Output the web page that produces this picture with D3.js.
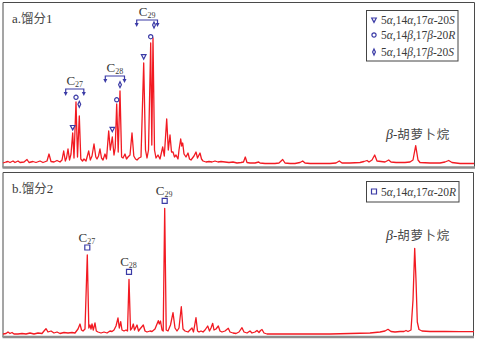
<!DOCTYPE html>
<html>
<head>
<meta charset="utf-8">
<script src="https://cdn.jsdelivr.net/npm/d3@7"></script>
<style>
  html, body { margin: 0; padding: 0; background: #fff; }
  svg { display: block; }
</style>
</head>
<body>
<svg id="chart" width="477" height="341"></svg>
<script>
// m/z 217 mass chromatograms of two fractions: [retention time (min), abundance]
const fraction1Trace = [
  [20.3,0],[20.6,1],[20.8,1.5],[21.0,0.5],[21.3,2],[21.5,0.5],[21.8,2],[22.0,0.5],[22.4,1],[22.7,3.5],
  [22.9,0.5],[23.3,1.5],[23.6,0.5],[24.0,2],[24.3,0.5],[24.7,2],[24.9,9],[25.1,1.5],[25.4,1],[25.7,2.5],
  [26.0,1],[26.2,3],[26.37,12],[26.53,2],[26.65,5],[26.8,14],[26.95,3],[27.1,9],[27.27,30],[27.4,5],
  [27.6,61],[27.75,6],[27.93,47],[28.08,4],[28.25,2],[28.4,4],[28.6,2],[28.87,12],[29.03,3],[29.2,7],
  [29.4,19],[29.58,6],[29.7,4],[29.85,7],[30.0,14],[30.15,5],[30.3,3],[30.5,9],[30.65,4],[30.87,32],
  [31.03,13],[31.23,26],[31.4,8],[31.52,15],[31.67,59],[31.82,11],[32.0,72],[32.16,6],[32.3,5],[32.5,9],
  [32.65,4],[32.8,6],[33.0,8],[33.2,30],[33.38,7],[33.55,4],[33.7,3],[33.9,5],[34.1,6],[34.37,100],
  [34.55,13],[34.7,5],[34.85,13],[35.07,120],[35.18,18],[35.3,125],[35.45,13],[35.6,5],[35.8,8],[36.0,4],
  [36.27,16],[36.43,7],[36.67,44],[36.83,13],[37.0,28],[37.15,11],[37.3,11],[37.45,6],[37.6,8],[37.8,4],
  [37.9,13],[38.07,24],[38.17,17],[38.27,20],[38.4,9],[38.6,6],[38.8,10],[38.95,4],[39.1,3],[39.4,7],
  [39.6,11],[39.75,5],[40.0,10],[40.15,4],[40.3,2],[40.6,1],[40.9,1.5],[41.2,1],[41.5,2],[41.8,1],
  [42.1,1.5],[42.5,1],[42.9,0.5],[43.3,1],[43.7,0],[44.1,0.5],[44.35,1],[44.53,6],[44.7,0.5],[45.0,0],
  [45.5,0],[45.87,1],[46.0,0],[46.5,-0.5],[47.0,-0.5],[47.5,-0.5],[47.9,0],[48.27,3.5],[48.5,0],[49.0,-0.5],
  [49.5,-0.5],[50.0,0.5],[50.27,2],[50.5,0],[51.0,-0.5],[52.0,-0.5],[53.0,-0.5],[53.6,0],[53.93,2],[54.2,0],
  [55.0,0],[56.0,0.5],[56.4,1.5],[56.7,2.5],[56.9,1],[57.2,3],[57.47,8],[57.7,2],[58.1,1.5],[58.5,1],
  [58.87,3],[59.1,1],[59.6,0.5],[60.5,0.5],[61.0,1],[61.3,3],[61.57,17.3],[61.8,3],[62.0,0.5],[63.0,0],
  [64.0,0],[64.5,1],[64.87,2.5],[65.2,0.5],[66.0,-0.5],[67.4,-0.5]
];

const fraction2Trace = [
  [20.3,0],[20.6,0.5],[20.8,2],[21.0,0.5],[21.2,1.5],[21.4,0],[21.8,0],[22.2,0.5],[22.6,0],[23.0,1],
  [23.4,0],[23.8,1],[24.2,0.5],[24.4,3],[24.6,5.3],[24.8,2],[25.1,3],[25.4,1],[25.7,2],[26.0,0.5],
  [26.4,1.5],[26.8,1],[27.2,1.5],[27.5,1],[27.8,5],[28.0,10],[28.15,4],[28.3,3],[28.5,5],[28.73,79],
  [28.88,6],[29.0,9],[29.1,5],[29.2,10],[29.33,4],[29.5,11],[29.63,3],[29.8,2],[30.1,1],[30.4,2],
  [30.7,1],[31.0,3],[31.2,2.5],[31.4,4],[31.6,8],[31.8,16],[31.93,6],[32.07,12.3],[32.2,4],[32.4,3],
  [32.6,4],[32.75,3],[32.9,54.7],[33.05,4],[33.2,6],[33.33,10],[33.45,4],[33.7,9],[33.85,3],[34.0,5],
  [34.33,9],[34.5,3],[34.7,2],[35.0,3],[35.2,2.5],[35.5,5],[35.83,13.3],[35.93,10],[36.05,13],[36.2,4],
  [36.32,3],[36.47,125.7],[36.62,4],[36.8,3],[37.05,9],[37.3,21.3],[37.5,6],[37.7,3],[37.9,6],[38.13,27.3],
  [38.3,5],[38.5,3],[38.8,2],[39.0,4],[39.2,6],[39.35,2],[39.6,16.3],[39.75,3],[39.9,2],[40.1,3],
  [40.3,2],[40.5,4],[40.77,8],[40.95,3],[41.1,6],[41.27,10.7],[41.4,4],[41.6,5],[41.83,8],[42.0,3],
  [42.2,2],[42.5,3],[42.83,5.7],[43.0,2],[43.3,1],[43.6,0.5],[43.9,2],[44.2,6.3],[44.4,2],[44.7,1],
  [45.0,3],[45.2,1],[45.5,2],[45.7,3.5],[45.9,1.5],[46.05,3.5],[46.2,4.5],[46.4,1],[46.7,0],[47.5,0],
  [49.0,0],[51.0,0],[53.0,0],[55.0,0.5],[57.0,1],[58.0,2],[58.5,3],[58.8,4.7],[59.1,2.5],[59.5,2],
  [60.0,2.5],[60.4,2.5],[60.6,3.5],[60.8,2.5],[61.1,4],[61.3,34],[61.47,85.7],[61.6,54],[61.73,12],[61.9,4.5],
  [62.2,3],[63.0,2.5],[64.5,2.5],[66.0,2.3],[67.4,2.3]
];

// Sterane isomer peaks (retention time, apex abundance)
const fraction1Groups = ["27", "28", "29"];
const fraction1Isomers = ["tri", "circle", "diamond"];
const fraction1PeakTimes = [[27.27, 27.6, 27.93], [31.23, 31.67, 32.0], [34.37, 35.07, 35.3]];
const fraction1PeakValues = [[30, 61, 47], [26, 59, 72], [100, 120, 125]];

const fraction2Groups = ["27", "28", "29"];
const fraction2PeakTimes = [28.73, 32.9, 36.47];
const fraction2PeakValues = [79, 54.7, 125.7];

// Legend entries
const legend1Labels = ["5α,14α,17α-20S", "5α,14β,17β-20R", "5α,14β,17β-20S"];
const legend2Labels = ["5α,14α,17α-20R"];
const panelTitles = [["a.", "馏分", "1"], ["b.", "馏分", "2"]];
const carotaneName = "胡萝卜烷";

// ---- drawing ----
const svg = d3.select("#chart");
const BLUE = "#3b3ba6";
const RED = "#f21a22";
const TEXT = "#3a3a3a";
const CJK_TEXT = "#4a4a4a";
const SERIF = "'Liberation Serif', 'Times New Roman', serif";
const CJK = "'Noto Sans CJK SC', 'Noto Sans', sans-serif";

const panels = [
  { top: 2, bottom: 167.5, left: 3, right: 474.5, baseline: 163, trace: fraction1Trace },
  { top: 172, bottom: 337, left: 3, right: 473.5, baseline: 334, trace: fraction2Trace }
];

const x = d3.scaleLinear().domain([20.3, 67.4]).range([3, 474]);
panels.forEach(p => {
  p.y = d3.scaleLinear().domain([0, 130]).range([p.baseline, p.baseline - 130]);
});

// frames
panels.forEach(p => {
  svg.append("path")
    .attr("d", `M${p.left},${p.bottom} V${p.top + 0.5} H${p.right} V${p.bottom}`)
    .attr("fill", "none").attr("stroke", "#4a4a4a").attr("stroke-width", 1);
  svg.append("line")
    .attr("x1", p.left - 0.5).attr("x2", p.right + 0.5)
    .attr("y1", p.bottom).attr("y2", p.bottom)
    .attr("stroke", "#8c8c8c").attr("stroke-width", 2.5);
});

// chromatogram traces
panels.forEach(p => {
  const line = d3.line().x(d => x(d[0])).y(d => p.y(d[1]));
  svg.append("path")
    .datum(p.trace)
    .attr("d", line)
    .attr("fill", "none")
    .attr("stroke", RED)
    .attr("stroke-width", 1.3)
    .attr("stroke-linejoin", "round");
});

// marker glyphs
function glyph(g, kind, cx, cy) {
  const s = g.append("path")
    .attr("fill", "none").attr("stroke", BLUE).attr("stroke-width", 1.2)
    .attr("transform", `translate(${cx},${cy})`);
  if (kind === "tri") s.attr("d", "M-2.3,-2 L2.3,-2 L0,2.4 Z");
  else if (kind === "circle") s.attr("d", d3.arc()({ innerRadius: 0, outerRadius: 2.1, startAngle: 0, endAngle: 2 * Math.PI }));
  else if (kind === "diamond") s.attr("d", "M0,-3 L1.4,0 L0,3 L-1.4,0 Z");
  else if (kind === "square") s.attr("d", "M-2.5,-2.5 H2.5 V2.5 H-2.5 Z");
  return s;
}

// rich text: Greek letters and configuration letters in italics
function richText(g, str, px, py, size) {
  const t = g.append("text")
    .attr("x", px).attr("y", py)
    .attr("font-family", SERIF).attr("font-size", size)
    .attr("fill", TEXT);
  const parts = str.match(/[αβ]|[^αβ]+/g);
  parts.forEach((part, i) => {
    if (i === parts.length - 1 && /[SR]$/.test(part)) {
      t.append("tspan").text(part.slice(0, -1));
      t.append("tspan").attr("font-style", "italic").text(part.slice(-1));
    } else {
      t.append("tspan").attr("font-style", /[αβ]/.test(part) ? "italic" : "normal").text(part);
    }
  });
  return t;
}

function carbonLabel(g, n, cx, baselineY) {
  const t = g.append("text")
    .attr("x", cx).attr("y", baselineY)
    .attr("text-anchor", "middle")
    .attr("font-family", SERIF).attr("fill", TEXT);
  t.append("tspan").attr("font-size", 13).text("C");
  t.append("tspan").attr("font-size", 8).attr("dy", 2.5).text(n);
}

// ---- panel a annotations ----
const pa = panels[0];
const ga = svg.append("g");
const markerLift = [[5.5, 4.7, 11.7], [7.7, 4.2, 6.3], [6.3, 6.3, 13]];
const bracketLift = [13, 15, 18];
fraction1Groups.forEach((grp, gi) => {
  const times = fraction1PeakTimes[gi];
  const vals = fraction1PeakValues[gi];
  times.forEach((t, k) => {
    glyph(ga, fraction1Isomers[k], x(t) + (k === 2 && gi === 2 ? 1 : 0), pa.y(vals[k]) - markerLift[gi][k]);
  });
  const x0 = x(times[0]) - 7, x1 = x(times[2]) + 4.5;
  const by = pa.y(d3.max(vals)) - bracketLift[gi];
  ga.append("path")
    .attr("d", `M${x0},${by + 4} V${by} H${x1} V${by + 4}`)
    .attr("fill", "none").attr("stroke", BLUE).attr("stroke-width", 1.2);
  [x0, x1].forEach(ax => {
    ga.append("path")
      .attr("d", `M${ax - 2},${by + 3} L${ax + 2},${by + 3} L${ax},${by + 7} Z`)
      .attr("fill", BLUE);
  });
  carbonLabel(ga, grp, (x0 + x1) / 2, by - 4.5);
});

// ---- panel b annotations ----
const pb = panels[1];
const gb = svg.append("g");
fraction2Groups.forEach((grp, gi) => {
  const cx = x(fraction2PeakTimes[gi]);
  const sy = pb.y(fraction2PeakValues[gi]) - 7.5;
  glyph(gb, "square", cx, sy);
  carbonLabel(gb, grp, cx - 0.5, sy - 6);
});

// titles
panelTitles.forEach((parts, i) => {
  const ty = [23, 193][i];
  const t = svg.append("text").attr("x", 12).attr("y", ty).attr("fill", TEXT);
  t.append("tspan").attr("font-family", SERIF).attr("font-size", 13).text(parts[0]);
  t.append("tspan").attr("font-family", CJK).attr("font-size", 12.5).attr("fill", CJK_TEXT).text(parts[1]);
  t.append("tspan").attr("font-family", SERIF).attr("font-size", 13).text(parts[2]);
});

// beta-carotane labels
[139, 240].forEach(yText => {
  const t = svg.append("text").attr("x", 386).attr("y", yText).attr("fill", TEXT);
  t.append("tspan").attr("font-family", SERIF).attr("font-style", "italic").attr("font-size", 14).text("β");
  t.append("tspan").attr("font-family", SERIF).attr("font-size", 13).text("-");
  t.append("tspan").attr("font-family", CJK).attr("font-size", 12.5).attr("fill", CJK_TEXT)
    .attr("letter-spacing", 0.6).text(carotaneName);
});

// legends
function legend(entries, kinds, bx, by, bw, bh, rows) {
  const g = svg.append("g");
  g.append("rect").attr("x", bx + 0.5).attr("y", by + 0.5).attr("width", bw).attr("height", bh)
    .attr("fill", "#fff").attr("stroke", "#444").attr("stroke-width", 1);
  entries.forEach((label, i) => {
    glyph(g, kinds[i], bx + 8, rows[i]);
    richText(g, label, bx + 15, rows[i] + 4, 11.5);
  });
}
legend(legend1Labels, fraction1Isomers, 366, 10, 91.5, 50.5, [20, 35, 52]);
legend(legend2Labels, ["square"], 366, 181, 92.5, 20.5, [191.5]);
</script>
</body>
</html>
